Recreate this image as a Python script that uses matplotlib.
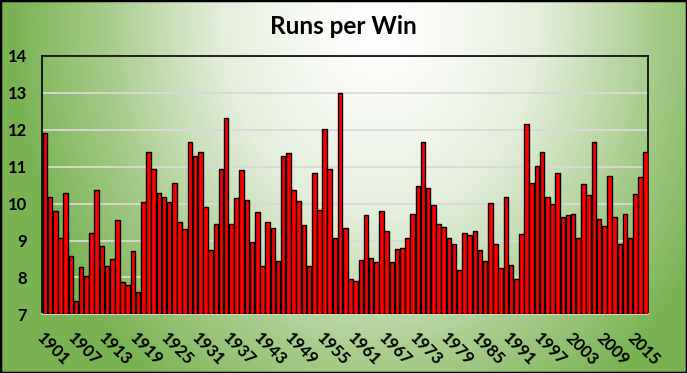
import numpy as np
import matplotlib
matplotlib.use('Agg')
import matplotlib.pyplot as plt
from matplotlib.colors import LinearSegmentedColormap
from matplotlib.patches import Rectangle

years = list(range(1901, 2018))
runs_per_win = [
    11.90, 10.17, 9.79, 9.06, 10.30, 8.57, 7.35, 8.27, 8.03, 9.19,
    10.38, 8.84, 8.30, 8.49, 9.55, 7.87, 7.79, 8.71, 7.60, 10.03,
    11.39, 10.95, 10.28, 10.19, 10.03, 10.55, 9.49, 9.30, 11.68, 11.28,
    11.41, 9.90, 8.73, 9.44, 10.93, 12.33, 9.46, 10.14, 10.90, 10.09,
    8.95, 9.76, 8.30, 9.49, 9.33, 8.44, 11.28, 11.36, 10.38, 10.06,
    9.41, 8.30, 10.82, 9.82, 12.01, 10.95, 9.08, 13.01, 9.33, 7.95,
    7.89, 8.46, 9.68, 8.52, 8.41, 9.79, 9.25, 8.41, 8.76, 8.79,
    9.06, 9.71, 10.49, 11.66, 10.41, 9.95, 9.44, 9.36, 9.08, 8.90,
    8.19, 9.19, 9.14, 9.27, 8.73, 8.44, 10.01, 8.90, 8.25, 10.19,
    8.33, 7.95, 9.17, 12.17, 10.55, 11.03, 11.41, 10.17, 9.98, 10.84,
    9.65, 9.68, 9.71, 9.08, 10.52, 10.22, 11.68, 9.57, 9.38, 10.74,
    9.65, 8.90, 9.73, 9.08, 10.25, 10.71, 11.39,
]
label_step = 6
y_ticks = [7, 8, 9, 10, 11, 12, 13, 14]

W, H = 687, 373
fig = plt.figure(figsize=(W / 100, H / 100), dpi=100)

# radial green background (white glow near top centre)
bg = fig.add_axes([0, 0, 1, 1], zorder=-10)
yy, xx = np.mgrid[0:H, 0:W]
d = np.sqrt(((xx - 380) / 370.0) ** 2 + ((yy - 20) / 460.0) ** 2)
d = np.clip(d, 0, 1) ** 1.3
cmap = LinearSegmentedColormap.from_list('bg', ['#ffffff', '#e4eedb', '#a8cd8c', '#78b253'], N=256)
bg.imshow(d, cmap=cmap, vmin=0, vmax=1, aspect='auto', interpolation='bilinear')
bg.axis('off')

ax = fig.add_axes([42.3 / W, 1 - 314.3 / H, 606 / W, 258.3 / H])
ax.patch.set_alpha(0)
x = np.arange(len(years))
ax.bar(x, np.array(runs_per_win) - 7, bottom=7, width=0.88, color='#ff0000',
       edgecolor='black', linewidth=1.0, zorder=3)
ax.set_xlim(-0.5, len(years) - 0.5)
ax.set_ylim(7, 14)
ax.set_yticks(y_ticks)
ax.set_yticklabels([str(t) for t in y_ticks], fontsize=12, fontweight='bold', family='Lato')
ax.yaxis.grid(True, color='#d9d9d9', linewidth=1.3, zorder=0)
ax.set_axisbelow(True)
ticks = x[::label_step]
ax.set_xticks(ticks)
ax.set_xticklabels([str(years[i]) for i in ticks], rotation=-45, ha='left', va='top',
                   rotation_mode='anchor', fontsize=12, family='Lato', fontweight='bold')
ax.tick_params(axis='both', length=0)
ax.tick_params(axis='y', pad=11)
ax.tick_params(axis='x', pad=11)
for s in ['top', 'left', 'right']:
    ax.spines[s].set_color('black')
    ax.spines[s].set_linewidth(1.2)
ax.spines['bottom'].set_color('#d9d9d9')
ax.spines['bottom'].set_linewidth(1.3)

fig.text(0.5, 1 - 26 / H, 'Runs per Win', ha='center', va='center', fontsize=17.5,
         fontweight='bold', family='Lato')
fig.patches.append(Rectangle((0, 0), 1, 1, transform=fig.transFigure, fill=False,
                             edgecolor='black', linewidth=2.5))

plt.savefig('out.png', dpi=100)
